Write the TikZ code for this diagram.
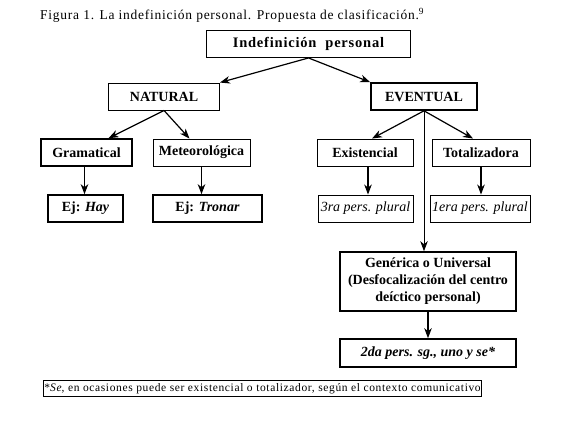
\documentclass[tikz,border=0pt]{standalone}
\usepackage{fontspec}
\setmainfont{Liberation Serif}
\newfontfamily\espaciada{Liberation Serif}[LetterSpace=5.5]
\usetikzlibrary{arrows.meta}

\begin{document}
\begin{tikzpicture}[x=1pt,y=-1pt,
caja/.style={draw,line width=0.9pt,minimum height=27pt,inner sep=1pt,font=\fontsize{14}{17}\selectfont\bfseries},
cajag/.style={caja,line width=1.6pt},
cursiva/.style={caja,font=\fontsize{14}{17}\selectfont\itshape},
flecha/.style={-{Stealth[length=10pt,width=7.5pt,inset=3pt]},line width=1.2pt}]

\useasboundingbox (0,0) rectangle (569,421);

\node[anchor=west,inner sep=0pt,font=\fontsize{13.5}{16}\espaciada] (titulo) at (40,15) {Figura 1. La indefinición personal. Propuesta de clasificación.\textsuperscript{9}};

\node[caja,minimum width=204pt,font=\fontsize{14.5}{17}\espaciada\bfseries] (indef) at (308.5,44) {Indefinición\ \ personal};
\node[caja,minimum width=111pt] (natural) at (164,96.5) {NATURAL};
\node[cajag,minimum width=106pt] (eventual) at (424,96.5) {EVENTUAL};

\node[cajag,minimum width=91pt] (gram) at (86.5,152.5) {Gramatical};
\node[caja,minimum width=97pt] (meteo) at (201.5,152.5) {Meteorológica};
\node[caja,minimum width=96pt] (exist) at (365,152.5) {Existencial};
\node[caja,minimum width=98pt] (total) at (481,152.5) {Totalizadora};

\node[cajag,minimum width=75pt] (hay) at (85.5,208.5) {Ej: \textit{Hay}};
\node[cajag,minimum width=109pt] (tronar) at (207.5,208.5) {Ej: \textit{Tronar}};
\node[cursiva,minimum width=95pt] (tercera) at (365.5,208.5) {3ra pers. plural};
\node[cursiva,minimum width=100pt] (primera) at (480,208.5) {1era pers. plural};

\node[cajag,minimum width=176pt,minimum height=59pt,align=center,font=\fontsize{14}{17}\selectfont\bfseries] (generica) at (428,281.5) {Genérica o Universal\\(Desfocalización del centro\\deíctico personal)};
\node[cajag,minimum width=176pt,minimum height=28pt,font=\fontsize{14}{17}\selectfont\bfseries\itshape] (segunda) at (428,353) {2da pers. sg., uno y se*};

\node[draw,line width=0.8pt,anchor=west,inner xsep=1pt,inner ysep=2.5pt,font=\fontsize{11.5}{13}\espaciada] (nota) at (43,388.5) {*\textit{Se}, en ocasiones puede ser existencial o totalizador, según el contexto comunicativo};

\draw[flecha] (indef.south) -- (natural.north east);
\draw[flecha] (indef.south) -- (eventual.north west);
\draw[flecha] (natural.south) -- ([xshift=22pt]gram.north);
\draw[flecha] (natural.south) -- ([xshift=-12pt]meteo.north);
\draw[flecha] (eventual.south) -- ([xshift=7pt]exist.north);
\draw[flecha] (eventual.south) -- ([xshift=-8pt]total.north);
\draw[flecha,line width=0.8pt] (eventual.south) -- (eventual.south |- generica.north);

\draw[flecha] ([xshift=-2pt]gram.south) -- ([xshift=-2pt]gram.south |- hay.north);
\draw[flecha] (meteo.south) -- (meteo.south |- tronar.north);
\draw[flecha] ([xshift=3pt]exist.south) -- ([xshift=3pt]exist.south |- tercera.north);
\draw[flecha] (total.south) -- (total.south |- primera.north);
\draw[flecha] (generica.south) -- (segunda.north);

\end{tikzpicture}
\end{document}
